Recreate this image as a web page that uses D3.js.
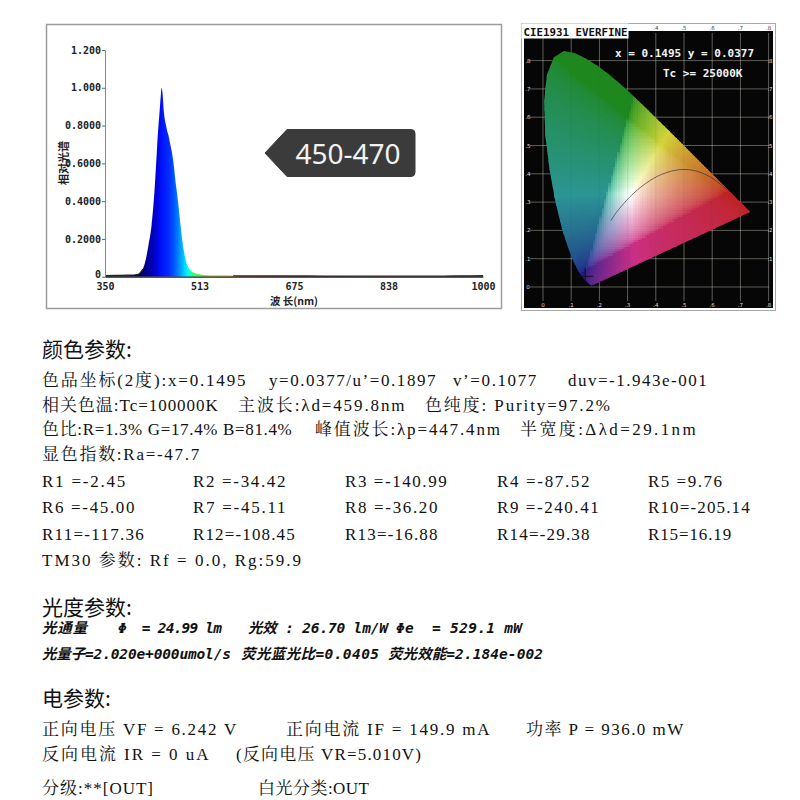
<!DOCTYPE html>
<html>
<head>
<meta charset="utf-8">
<script src="https://cdn.jsdelivr.net/npm/d3@7"></script>
<style>
  body { margin: 0; background: #fff; }
  svg { display: block; }
  text { white-space: pre; }
</style>
</head>
<body>
<svg width="800" height="800"></svg>
<script>
// spectrum (relative intensity)
const wavelengths = [350, 370, 390, 400, 405, 410, 415, 420, 425, 430, 435, 438, 441, 444, 446, 447.4, 449, 451, 453, 455, 457, 459, 461, 463, 465, 467, 469, 471, 474, 477, 480, 483, 486, 489, 492, 496, 500, 510, 520, 540, 570, 600, 650, 700, 800, 900, 950, 980, 1000]
const intensity   = [0.006, 0.007, 0.008, 0.009, 0.011, 0.018, 0.04, 0.09, 0.17, 0.27, 0.45, 0.6, 0.76, 0.88, 0.96, 1.0, 0.97, 0.88, 0.83, 0.8, 0.77, 0.75, 0.72, 0.69, 0.66, 0.62, 0.57, 0.51, 0.44, 0.36, 0.27, 0.19, 0.13, 0.085, 0.058, 0.037, 0.026, 0.014, 0.009, 0.006, 0.005, 0.004, 0.004, 0.004, 0.003, 0.003, 0.004, 0.005, 0.006]

const yTickValues = [0, 0.2, 0.4, 0.6, 0.8, 1.0, 1.2]
const yTickLabels = ['0', '0.2000', '0.4000', '0.6000', '0.8000', '1.000', '1.200']
const xTickValues = [350, 512.5, 675, 837.5, 1000]
const xTickLabels = ['350', '513', '675', '838', '1000']
const bandLabel = '450-470'

// CIE 1931 spectral locus (380..700 nm)
const locusX = [0.1741, 0.1740, 0.1738, 0.1736, 0.1733, 0.1730, 0.1726, 0.1721, 0.1714, 0.1703, 0.1689, 0.1669, 0.1644, 0.1611, 0.1566, 0.1510, 0.1440, 0.1355, 0.1241, 0.1096, 0.0913, 0.0687, 0.0454, 0.0235, 0.0082, 0.0039, 0.0139, 0.0389, 0.0743, 0.1142, 0.1547, 0.1929, 0.2296, 0.2658, 0.3016, 0.3373, 0.3731, 0.4087, 0.4441, 0.4788, 0.5125, 0.5448, 0.5752, 0.6029, 0.6270, 0.6482, 0.6658, 0.6801, 0.6915, 0.7006, 0.7079, 0.7140, 0.7190, 0.7230, 0.7260, 0.7300, 0.7334, 0.7347]
const locusY = [0.0050, 0.0050, 0.0049, 0.0049, 0.0048, 0.0048, 0.0048, 0.0048, 0.0051, 0.0058, 0.0069, 0.0086, 0.0109, 0.0138, 0.0177, 0.0227, 0.0297, 0.0399, 0.0578, 0.0868, 0.1327, 0.2007, 0.2950, 0.4127, 0.5384, 0.6548, 0.7502, 0.8120, 0.8338, 0.8262, 0.8059, 0.7816, 0.7543, 0.7243, 0.6923, 0.6589, 0.6245, 0.5896, 0.5547, 0.5202, 0.4866, 0.4544, 0.4242, 0.3965, 0.3725, 0.3514, 0.3340, 0.3197, 0.3083, 0.2993, 0.2920, 0.2859, 0.2809, 0.2770, 0.2740, 0.2700, 0.2666, 0.2653]
// planckian locus 1000K .. infinity
const planckX = [0.6528, 0.5857, 0.5267, 0.4770, 0.4369, 0.4053, 0.3805, 0.3451, 0.3221, 0.3064, 0.2952, 0.2807, 0.2637, 0.2565, 0.2399]
const planckY = [0.3444, 0.3931, 0.4133, 0.4137, 0.4041, 0.3907, 0.3768, 0.3516, 0.3318, 0.3166, 0.3048, 0.2884, 0.2682, 0.2583, 0.2342]
const cieTicks = [0, 0.1, 0.2, 0.3, 0.4, 0.5, 0.6, 0.7, 0.8]
const chromaXY = [0.1495, 0.0377]
const chromaUV = [0.1897, 0.1077]
const duv = '-1.943e-001'
const cctText = '25000K'

// colour rendering
const renderNames = ['R1', 'R2', 'R3', 'R4', 'R5', 'R6', 'R7', 'R8', 'R9', 'R10', 'R11', 'R12', 'R13', 'R14', 'R15']
const renderValues = [-2.45, -34.42, -140.99, -87.52, 9.76, -45.00, -45.11, -36.20, -240.41, -205.14, -117.36, -108.45, -16.88, -29.38, 16.19]

const svg = d3.select('svg')
const defs = svg.append('defs')

// ---------- spectrum ----------
const x = d3.scaleLinear().domain([350, 1000]).range([105, 483])
const y = d3.scaleLinear().domain([0, 1.2]).range([276.7, 50])
const spec = wavelengths.map((w, i) => [w, intensity[i]])

svg.append('rect')
   .attr('x', 46.5).attr('y', 24.5).attr('width', 455).attr('height', 284)
   .attr('fill', '#fff').attr('stroke', '#9c9c9c').attr('stroke-width', 1.5)

const grad = defs.append('linearGradient')
   .attr('id', 'specGrad').attr('gradientUnits', 'userSpaceOnUse')
   .attr('x1', x(350)).attr('x2', x(1000)).attr('y1', 0).attr('y2', 0)
const stops = [[350, '#101030'], [410, '#000070'], [420, '#000088'], [430, '#0000b4'], [440, '#0004e0'],
               [448, '#0014ff'], [458, '#0028ff'], [466, '#0048ff'], [474, '#0078ff'], [481, '#00a8ff'],
               [487, '#00d8ff'], [493, '#00ffe8'], [500, '#30ff90'], [510, '#50f050'], [530, '#80d030'],
               [555, '#b0a820'], [590, '#a05018'], [630, '#701010'], [700, '#401010'], [800, '#202020'], [1000, '#202020']]
grad.selectAll('stop').data(stops).join('stop')
   .attr('offset', d => (d[0] - 350) / 650)
   .attr('stop-color', d => d[1])

svg.append('path')
   .datum(spec)
   .attr('fill', 'url(#specGrad)')
   .attr('d', d3.area().x(d => x(d[0])).y0(y(0)).y1(d => y(d[1])).curve(d3.curveMonotoneX))

const tailLine = d3.line().x(d => x(d[0])).y(d => y(d[1])).curve(d3.curveMonotoneX)
svg.append('path').datum(spec.filter(d => d[0] <= 415))
   .attr('fill', 'none').attr('stroke', '#222').attr('stroke-width', 1.2).attr('d', tailLine)
svg.append('path').datum(spec.filter(d => d[0] >= 560))
   .attr('fill', 'none').attr('stroke', '#3a2a2a').attr('stroke-width', 1.2).attr('d', tailLine)

const yAxis = svg.append('g')
   .attr('transform', `translate(${x(350)},0)`)
   .call(d3.axisLeft(y).tickValues(yTickValues).tickFormat((d, i) => yTickLabels[i]).tickSize(3).tickSizeOuter(0).tickPadding(1))
yAxis.select('.domain').attr('stroke', '#888')
yAxis.selectAll('.tick line').attr('stroke', '#666')
yAxis.selectAll('text').attr('font-family', 'DejaVu Sans Mono').attr('font-weight', 'bold').attr('font-size', 10).attr('fill', '#222')
yAxis.selectAll('.tick').filter(d => d === 0).select('text').attr('dy', '0.1em')

const xAxis = svg.append('g')
   .attr('transform', `translate(0,${y(0)})`)
   .call(d3.axisBottom(x).tickValues(xTickValues).tickFormat((d, i) => xTickLabels[i]).tickSize(0).tickPadding(6.5))
xAxis.select('.domain').attr('stroke', '#222').attr('stroke-width', 1.2)
xAxis.selectAll('text').attr('font-family', 'DejaVu Sans Mono').attr('font-weight', 'bold').attr('font-size', 10).attr('fill', '#222')

svg.append('text')
   .attr('transform', 'translate(62.5,163) rotate(-90)')
   .attr('text-anchor', 'middle').attr('dominant-baseline', 'central')
   .attr('font-family', 'Noto Sans CJK SC').attr('font-weight', 'bold').attr('font-size', 11).attr('fill', '#222')
   .text('相对光谱')
svg.append('text')
   .attr('x', 294).attr('y', 304.5).attr('text-anchor', 'middle')
   .attr('font-family', 'Noto Sans CJK SC').attr('font-weight', 'bold').attr('font-size', 10.5).attr('fill', '#222')
   .text('波 长(nm)')

// callout
svg.append('path')
   .attr('d', 'M265,153 L287,129.5 H411 Q415,129.5 415,133.5 V172.5 Q415,176.5 411,176.5 H287 Z')
   .attr('fill', '#3b3b3b').attr('stroke', '#3b3b3b').attr('stroke-linejoin', 'round')
svg.append('text')
   .attr('x', 348).attr('y', 164).attr('text-anchor', 'middle')
   .attr('font-family', 'Noto Sans').attr('font-size', 28).attr('fill', '#f2f2f2')
   .text(bandLabel)

// ---------- CIE 1931 ----------
const cx = d3.scaleLinear().domain([0, 0.8]).range([543, 768.6])
const cy = d3.scaleLinear().domain([0, 0.8]).range([287, 60.6])

svg.append('rect').attr('x', 521.5).attr('y', 23.5).attr('width', 254).attr('height', 287)
   .attr('fill', '#fff').attr('stroke', '#a8a8a8')
svg.append('rect').attr('x', 524).attr('y', 31).attr('width', 249).attr('height', 277).attr('fill', '#060606')

const cie = svg.append('g')

// grid
cie.append('g').selectAll('line').data(cieTicks).join('line')
   .attr('x1', d => cx(d)).attr('x2', d => cx(d)).attr('y1', 33).attr('y2', 301)
   .attr('stroke', '#d8d8c8').attr('stroke-opacity', 0.6).attr('stroke-width', 0.7)
cie.append('g').selectAll('line').data(cieTicks).join('line')
   .attr('y1', d => cy(d)).attr('y2', d => cy(d)).attr('x1', 530).attr('x2', 769)
   .attr('stroke', '#d8d8c8').attr('stroke-opacity', 0.6).attr('stroke-width', 0.7)

const locus = locusX.map((v, i) => [v, locusY[i]])
const locusPath = d3.line().x(d => cx(d[0])).y(d => cy(d[1]))
defs.append('clipPath').attr('id', 'locusClip')
   .append('path').attr('d', locusPath(locus) + 'Z')

const gam = v => v <= 0.0031308 ? 12.92 * v : 1.055 * Math.pow(v, 1 / 2.4) - 0.055
const chromaColor = (px, py) => {
  const X = px / py, Z = (1 - px - py) / py
  let r = Math.max(0, 3.2406 * X - 1.5372 - 0.4986 * Z)
  let g = Math.max(0, -0.9689 * X + 1.8758 + 0.0415 * Z)
  let b = Math.max(0, 0.0557 * X - 0.2040 + 1.0570 * Z)
  const m = Math.max(r, g, b)
  r = gam(r / m); g = gam(g / m); b = gam(b / m)
  const hi = Math.max(r, g, b), lo = Math.min(r, g, b)
  const sat = hi > 0 ? (hi - lo) / hi : 0
  b = b * (1 - 0.45 * r * sat)
  const k = (1 - 0.4 * sat * (1 - r)) * (1 - 0.12 * sat * r)
  const L = (r + g + b) / 3
  const mix = v => Math.min(255, (v * 0.72 + L * 0.28) * 245 * k + 16)
  return `rgb(${mix(r)},${mix(g)},${mix(b)})`
}
const step = 0.008
const cells = []
for (let gx = 0; gx < 0.745; gx += step) {
  for (let gy = 0; gy < 0.84; gy += step) cells.push([gx, gy])
}
cie.append('g').attr('clip-path', 'url(#locusClip)')
   .selectAll('rect').data(cells).join('rect')
   .attr('x', d => cx(d[0])).attr('y', d => cy(d[1] + step))
   .attr('width', cx(step) - cx(0) + 0.4).attr('height', cy(0) - cy(step) + 0.4)
   .attr('shape-rendering', 'crispEdges')
   .attr('fill', d => chromaColor(d[0] + step / 2, Math.max(0.004, d[1] + step / 2)))

// faint grid showing through the colour field
cie.append('g').attr('clip-path', 'url(#locusClip)').selectAll('line').data(cieTicks).join('line')
   .attr('x1', d => cx(d)).attr('x2', d => cx(d)).attr('y1', 33).attr('y2', 301)
   .attr('stroke', '#555').attr('stroke-opacity', 0.18).attr('stroke-width', 0.6)

const fmt = d => d === 0 ? '0' : d3.format('.1f')(d).replace('0.', '.')
cie.append('g').selectAll('text').data(cieTicks).join('text')
   .attr('x', d => cx(d)).attr('y', 306.5).attr('text-anchor', 'middle')
   .attr('font-family', 'DejaVu Sans').attr('font-size', 5.5).attr('fill', '#ddd').text(fmt)
cie.append('g').selectAll('text').data(cieTicks).join('text')
   .attr('x', 528).attr('y', d => cy(d) + 2).attr('text-anchor', 'middle')
   .attr('font-family', 'DejaVu Sans').attr('font-size', 5.5).attr('fill', '#ddd').text(fmt)
cie.append('g').selectAll('text').data(cieTicks.slice(1)).join('text')
   .attr('x', 770).attr('y', d => cy(d) + 2).attr('text-anchor', 'middle')
   .attr('font-family', 'DejaVu Sans').attr('font-size', 5.5).attr('fill', '#ddd').text(fmt)
cie.append('g').selectAll('text').data(cieTicks.slice(4)).join('text')
   .attr('x', d => cx(d)).attr('y', 29.5).attr('text-anchor', 'middle')
   .attr('font-family', 'DejaVu Sans').attr('font-size', 5.5).attr('fill', '#444').text(fmt)

// planckian locus and the measured point
cie.append('path').datum(planckX.map((v, i) => [v, planckY[i]]))
   .attr('fill', 'none').attr('stroke', '#333').attr('stroke-width', 0.9).attr('stroke-opacity', 0.75)
   .attr('d', d3.line().x(d => cx(d[0])).y(d => cy(d[1])).curve(d3.curveCatmullRom))
const [mx, my] = [cx(chromaXY[0]), cy(chromaXY[1])]
cie.append('line').attr('x1', mx - 8).attr('x2', mx + 8).attr('y1', my).attr('y2', my).attr('stroke', '#111').attr('stroke-width', 1)
cie.append('line').attr('x1', mx).attr('x2', mx).attr('y1', my - 8).attr('y2', my + 8).attr('stroke', '#111').attr('stroke-width', 1)

svg.append('rect').attr('x', 521.5).attr('y', 23.5).attr('width', 107).attr('height', 15).attr('fill', '#fff')
svg.append('text').attr('x', 523.5).attr('y', 36)
   .attr('font-family', 'DejaVu Sans Mono').attr('font-weight', 'bold').attr('font-size', 10.8).attr('fill', '#111')
   .text('CIE1931 EVERFINE')
svg.append('text').attr('x', 615).attr('y', 57)
   .attr('font-family', 'DejaVu Sans Mono').attr('font-weight', 'bold').attr('font-size', 11).attr('fill', '#f4f4f4')
   .text(`x = ${chromaXY[0]} y = ${chromaXY[1]}`)
svg.append('text').attr('x', 663).attr('y', 77)
   .attr('font-family', 'DejaVu Sans Mono').attr('font-weight', 'bold').attr('font-size', 11).attr('fill', '#f4f4f4')
   .text(`Tc >= ${cctText}`)

// ---------- report text ----------
const report = svg.append('g').attr('fill', '#111')
const H = 9.25
const halves = s => Array.from(s).reduce((n, c) => n + (c.charCodeAt(0) > 0x2E7F || 'λΔ'.includes(c) ? 2 : 1), 0)
const seg = (px, py, str) => report.append('text')
   .attr('x', px).attr('y', py)
   .attr('font-family', "'Liberation Serif','Noto Serif CJK SC','Noto Sans CJK SC',serif").attr('font-size', 17)
   .attr('textLength', halves(str) * H).attr('lengthAdjust', 'spacing')
   .text(str)
const heading = (py, str) => report.append('text')
   .attr('x', 42).attr('y', py)
   .attr('font-family', 'Noto Sans CJK SC').attr('font-weight', 400).attr('font-size', 21)
   .text(str)
const boldItalic = (px, py, str, w) => report.append('text')
   .attr('x', px).attr('y', py)
   .attr('font-family', "'DejaVu Sans Mono','Noto Sans CJK SC',monospace").attr('font-weight', 'bold').attr('font-style', 'italic').attr('font-size', 14.5)
   .attr('textLength', w).attr('lengthAdjust', 'spacing')
   .text(str)

heading(357, '颜色参数:')
seg(42, 386, `色品坐标(2度):x=${chromaXY[0]}`)
seg(269, 386, `y=${chromaXY[1]}/u’=${chromaUV[0]}`)
seg(453, 386, `v’=${chromaUV[1]}`)
seg(568, 386, `duv=${duv}`)
seg(42, 410.5, '相关色温:Tc=100000K')
seg(238, 410.5, '主波长:λd=459.8nm')
seg(425, 410.5, '色纯度: Purity=97.2%')
seg(42, 435, '色比:R=1.3% G=17.4% B=81.4%')
seg(315, 435, '峰值波长:λp=447.4nm')
seg(520, 435, '半宽度:Δλd=29.1nm')
seg(42, 460, '显色指数:Ra=-47.7')

const colX = [42, 193, 345, 497, 648]
const rowY = [486.5, 513, 539.5]
renderNames.forEach((n, i) => {
  const label = (n + '   ').slice(0, 3) + '=' + renderValues[i].toFixed(2)
  seg(colX[i % 5], rowY[Math.floor(i / 5)], label)
})
seg(42, 566, 'TM30 参数: Rf = 0.0, Rg:59.9')

heading(615, '光度参数:')
boldItalic(42, 633, '光通量', 45)
boldItalic(118, 633, 'Φ  = 24.99 lm', 104)
boldItalic(248, 633, '光效 : 26.70 lm/W', 140)
boldItalic(396, 633, 'Φe  = 529.1 mW', 126)
boldItalic(42, 659, '光量子=2.020e+000umol/s', 189)
boldItalic(241, 659, '荧光蓝光比=0.0405', 138)
boldItalic(388, 659, '荧光效能=2.184e-002', 155)

heading(706, '电参数:')
seg(42, 734.5, '正向电压 VF = 6.242 V')
seg(286, 734.5, '正向电流 IF = 149.9 mA')
seg(526, 734.5, '功率 P = 936.0 mW')
seg(42, 759.5, '反向电流 IR = 0 uA')
seg(236, 759.5, '(反向电压 VR=5.010V)')
seg(42, 793.5, '分级:**[OUT]')
seg(258, 793.5, '白光分类:OUT')
</script>
</body>
</html>
